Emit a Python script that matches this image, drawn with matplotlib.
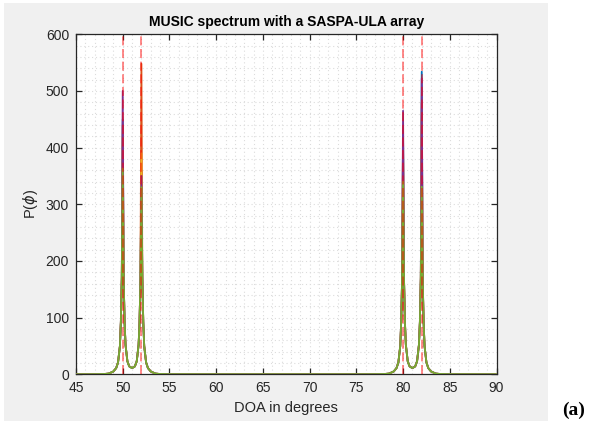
import matplotlib
matplotlib.use("Agg")
import matplotlib.pyplot as plt
from matplotlib.ticker import MultipleLocator

plt.rcParams['font.family'] = ['Liberation Sans', 'DejaVu Sans']
plt.rcParams['font.serif'] = ['Liberation Serif', 'Times New Roman', 'DejaVu Serif']

# ---- data ----
true_doa = [50, 52, 80, 82]

# DOA sample points (degrees)
doa = [45.0, 47.0, 48.0, 48.5, 49.0, 49.3, 49.5, 49.7, 49.8, 49.9,
       50.0,
       50.1, 50.2, 50.3, 50.5, 50.7, 51.0, 51.3, 51.5, 51.7, 51.8, 51.9,
       52.0,
       52.1, 52.2, 52.3, 52.5, 52.7, 53.0, 53.5, 54.0, 55.0, 60.0, 65.0,
       70.0, 75.0, 77.0, 78.0, 78.5, 79.0, 79.3, 79.5, 79.7, 79.8, 79.9,
       80.0,
       80.1, 80.2, 80.3, 80.5, 80.7, 81.0, 81.3, 81.5, 81.7, 81.8, 81.9,
       82.0,
       82.1, 82.2, 82.3, 82.5, 82.7, 83.0, 83.5, 84.0, 85.0, 90.0]

# spectrum level on the flanks (shared by all runs); None marks a peak sample
flank = [0.1, 0.2, 0.5, 1.2, 5.0, 11.0, 21.0, 50.0, 92.0, 170.0,
         None,
         170.0, 92.0, 52.0, 23.0, 14.0, 11.0, 14.0, 23.0, 52.0, 92.0, 170.0,
         None,
         170.0, 92.0, 50.0, 21.0, 11.0, 5.0, 1.2, 0.5, 0.2, 0.1, 0.1,
         0.1, 0.1, 0.2, 0.5, 1.2, 5.0, 11.0, 21.0, 50.0, 92.0, 170.0,
         None,
         170.0, 92.0, 52.0, 23.0, 14.0, 11.0, 14.0, 23.0, 52.0, 92.0, 170.0,
         None,
         170.0, 92.0, 50.0, 21.0, 11.0, 5.0, 1.2, 0.5, 0.2, 0.1]

# peak heights at 50, 52, 80, 82 degrees for each run
peak_blue   = [450, 360, 430, 534]
peak_orange = [440, 548, 420, 480]
peak_yellow = [420, 390, 400, 450]
peak_purple = [500, 350, 465, 522]
peak_green  = [363, 330, 340, 331]

runs = [(peak_blue, '#0072BD'), (peak_orange, '#D95319'),
        (peak_yellow, '#EDB120'), (peak_purple, '#7E2F8E'),
        (peak_green, '#77AC30')]

xticks = [45, 50, 55, 60, 65, 70, 75, 80, 85, 90]
yticks = [0, 100, 200, 300, 400, 500, 600]

# ---- figure ----
fig = plt.figure(figsize=(5.91, 4.28), dpi=100)
fig.patch.set_facecolor('white')

bg = fig.add_axes([4 / 591, 1 - 421 / 428, 544 / 591, 418 / 428])
bg.set_facecolor('#f0f0f0')
bg.set_xticks([])
bg.set_yticks([])
for s in bg.spines.values():
    s.set_visible(False)
bg.set_zorder(0)

ax = fig.add_axes([76 / 591, 1 - 374.3 / 428, 420.5 / 591, 340 / 428])
ax.set_zorder(1)
ax.set_facecolor('white')

for peaks, col in runs:
    vals = []
    k = 0
    for f in flank:
        if f is None:
            vals.append(peaks[k])
            k += 1
        else:
            vals.append(f)
    ax.plot(doa, vals, color=col, lw=1.3, zorder=3)

for d in true_doa:
    ax.axvline(d, color='#ff0000', alpha=0.5, linestyle=(0, (5, 2)),
               lw=1.3, zorder=4)

ax.set_xlim(45, 90)
ax.set_ylim(0, 600)
ax.set_xticks(xticks)
ax.set_yticks(yticks)
ax.xaxis.set_minor_locator(MultipleLocator(1))
ax.yaxis.set_minor_locator(MultipleLocator(20))
ax.grid(which='both', color='#dcdcdc', linestyle=(0, (1, 2.5)), lw=0.8)
ax.set_axisbelow(True)

for s in ax.spines.values():
    s.set_color('#262626')
    s.set_linewidth(0.9)
    s.set_zorder(2.5)
ax.tick_params(which='major', direction='in', length=4, width=0.9,
               top=True, right=True, colors='#262626', labelsize=10,
               labelcolor='#262626', pad=5)
ax.tick_params(which='minor', length=0)

ax.set_title('MUSIC spectrum with a SASPA-ULA array', fontsize=10,
             fontweight='bold', color='black', pad=6)
ax.set_xlabel('DOA in degrees', fontsize=10.5, color='#262626', labelpad=4)
ax.set_ylabel(r'P($\phi$)', fontsize=10.5, color='#262626', labelpad=4)

fig.text(574 / 591, 1 - 410 / 428, '(a)', fontsize=14, fontweight='bold',
         fontfamily='serif', ha='center', va='center')

fig.savefig('out.png', dpi=100)
